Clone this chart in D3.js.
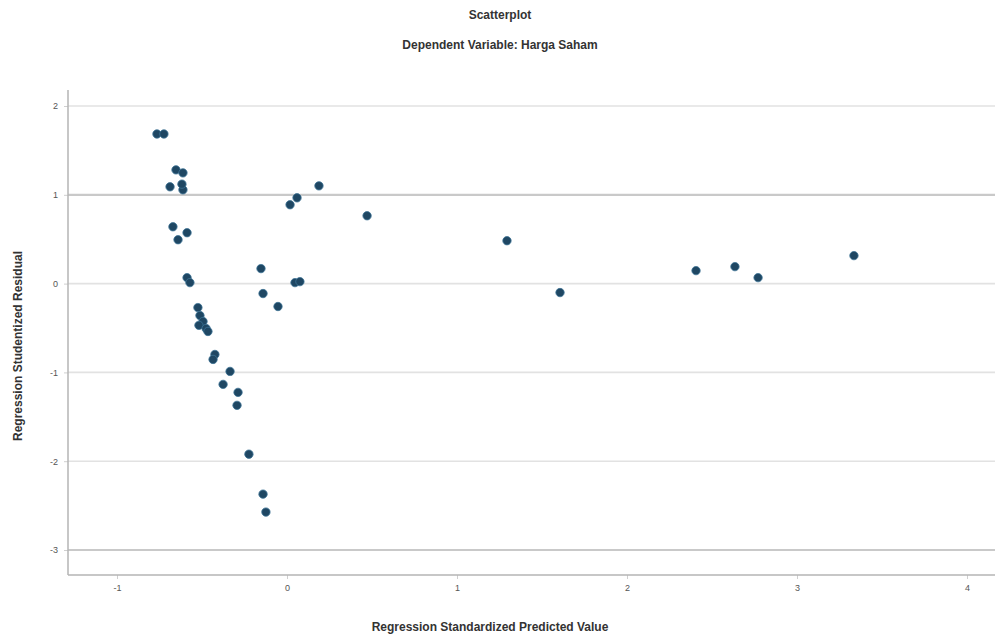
<!DOCTYPE html>
<html>
<head>
<meta charset="utf-8">
<script src="https://cdn.jsdelivr.net/npm/d3@7"></script>
<style>
  html, body { margin: 0; padding: 0; background: #ffffff; }
  svg { display: block; font-family: "Liberation Sans", Arial, sans-serif; }
</style>
</head>
<body>
<div id="chart"></div>
<script>
// ---- Data ----
const title = "Scatterplot";
const subtitle = "Dependent Variable: Harga Saham";
const xLabel = "Regression Standardized Predicted Value";
const yLabel = "Regression Studentized Residual";

const xTicks = [-1, 0, 1, 2, 3, 4];
const yTicks = [2, 1, 0, -1, -2, -3];

const predicted = [
  -0.765, -0.724, -0.653, -0.612, -0.688, -0.612, -0.618, -0.671, -0.588, -0.641,
  -0.588, -0.571, -0.524, -0.512, -0.494, -0.518, -0.476, -0.465, -0.424, -0.435,
  -0.335, -0.376, -0.288, -0.294, -0.224, -0.141, -0.124, -0.153, -0.141, -0.053,
  0.018, 0.059, 0.188, 0.047, 0.076, 0.471, 1.294, 1.606, 2.406, 2.635, 2.771, 3.335
];
const residual = [
  1.685, 1.685, 1.281, 1.247, 1.090, 1.056, 1.120, 0.640, 0.573, 0.494,
  0.067, 0.011, -0.270, -0.360, -0.427, -0.470, -0.506, -0.539, -0.798, -0.854,
  -0.989, -1.135, -1.225, -1.371, -1.921, -2.371, -2.573, 0.169, -0.112, -0.258,
  0.888, 0.966, 1.101, 0.011, 0.022, 0.764, 0.483, -0.101, 0.146, 0.191, 0.067, 0.315
];

// ---- Layout ----
const W = 1002, H = 641;
const plot = { left: 68, right: 995, top: 90, bottom: 575 };

const x = d3.scaleLinear().domain([-1, 4]).range([117, 967]);
const y = d3.scaleLinear().domain([-3, 2]).range([550, 106]);

const svg = d3.select("#chart").append("svg")
  .attr("width", W).attr("height", H);

// Titles
svg.append("text").attr("x", 500).attr("y", 19)
  .attr("text-anchor", "middle").attr("font-size", 12).attr("font-weight", "bold")
  .attr("fill", "#333").text(title);
svg.append("text").attr("x", 500).attr("y", 49)
  .attr("text-anchor", "middle").attr("font-size", 12).attr("font-weight", "bold")
  .attr("fill", "#333").text(subtitle);

// Gridlines
const grid = svg.append("g");
grid.selectAll("line").data(yTicks).enter().append("line")
  .attr("x1", plot.left).attr("x2", plot.right)
  .attr("y1", d => y(d)).attr("y2", d => y(d))
  .attr("stroke", d => (d === 1 || d === -3) ? "#c9c9c9" : "#e2e2e2")
  .attr("stroke-width", d => (d === 1 || d === -3) ? 2.2 : 1.6);

// Axes
const fmt = d => String(d);
const xAxis = d3.axisBottom(x).tickValues(xTicks).tickSize(4).tickPadding(6).tickFormat(fmt);
const yAxis = d3.axisLeft(y).tickValues(yTicks).tickSize(4).tickPadding(6).tickFormat(fmt);

const gx = svg.append("g").attr("transform", `translate(0,${plot.bottom})`).call(xAxis);
gx.select(".domain").remove();
gx.append("line").attr("x1", plot.left).attr("x2", plot.right).attr("y1", 0).attr("y2", 0)
  .attr("stroke", "#b5b5b5").attr("stroke-width", 1.5);
gx.selectAll(".tick line").attr("stroke", "#cfcfcf");
gx.selectAll(".tick text").attr("font-size", 9).attr("fill", "#555")
  .attr("font-family", "Liberation Sans, Arial, sans-serif");

const gy = svg.append("g").attr("transform", `translate(${plot.left},0)`).call(yAxis);
gy.select(".domain").remove();
gy.append("line").attr("x1", 0).attr("x2", 0).attr("y1", plot.top).attr("y2", plot.bottom)
  .attr("stroke", "#b5b5b5").attr("stroke-width", 1.5);
gy.selectAll(".tick line").attr("stroke", "#cfcfcf");
gy.selectAll(".tick text").attr("font-size", 9).attr("fill", "#555")
  .attr("font-family", "Liberation Sans, Arial, sans-serif");

// Axis labels
svg.append("text").attr("x", 490).attr("y", 631)
  .attr("text-anchor", "middle").attr("font-size", 12).attr("font-weight", "bold")
  .attr("fill", "#333").text(xLabel);
svg.append("text")
  .attr("transform", `translate(22,346) rotate(-90)`)
  .attr("text-anchor", "middle").attr("font-size", 12).attr("font-weight", "bold")
  .attr("fill", "#333").text(yLabel);

// Points
const pts = predicted.map((p, i) => ({ p, r: residual[i] }));
svg.append("g").selectAll("circle").data(pts).enter().append("circle")
  .attr("cx", d => x(d.p)).attr("cy", d => y(d.r)).attr("r", 4.2)
  .attr("fill", "#1f4763").attr("stroke", "#3d7396").attr("stroke-width", 0.8);
</script>
</body>
</html>
